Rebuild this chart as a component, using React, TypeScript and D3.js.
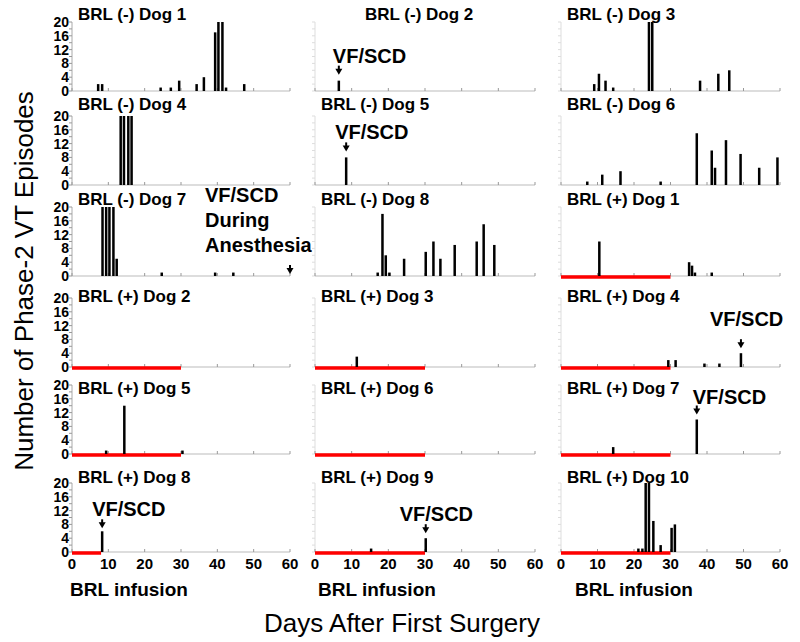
import React from "react";
import * as d3 from "d3";

// panel titles, row by row (3 per row)
const panelTitles = [
  "BRL (-) Dog 1", "BRL (-) Dog 2", "BRL (-) Dog 3",
  "BRL (-) Dog 4", "BRL (-) Dog 5", "BRL (-) Dog 6",
  "BRL (-) Dog 7", "BRL (-) Dog 8", "BRL (+) Dog 1",
  "BRL (+) Dog 2", "BRL (+) Dog 3", "BRL (+) Dog 4",
  "BRL (+) Dog 5", "BRL (+) Dog 6", "BRL (+) Dog 7",
  "BRL (+) Dog 8", "BRL (+) Dog 9", "BRL (+) Dog 10",
];

// [day, number of phase-2 VT episodes] (20 = off scale)
const negDog1 = [[7.2, 2], [8.3, 2], [24.4, 1], [27.2, 1], [29.5, 3], [34.3, 2], [36.3, 4], [39.4, 17], [40.3, 20], [41.4, 20], [42.4, 1], [47.4, 2]];
const negDog2 = [[6.5, 3]];
const negDog3 = [[9.1, 2], [10.4, 5], [12.2, 3], [14.3, 1], [24.1, 20], [25, 20], [38.1, 3], [43.1, 5], [46.1, 6]];
const negDog4 = [[13.4, 20], [14.3, 20], [15.5, 20], [16.4, 20]];
const negDog5 = [[8.5, 8]];
const negDog6 = [[7.2, 1], [11.3, 3], [16.3, 4], [27.3, 1], [37.2, 15], [41.3, 10], [42.2, 5], [45.2, 13], [49.2, 9], [54.3, 5], [59.3, 8]];
const negDog7 = [[8.4, 20], [9.4, 20], [10.3, 20], [11.4, 20], [12.3, 5], [24.7, 1], [39.4, 1], [44.4, 1]];
const negDog8 = [[17.1, 1], [18.4, 18], [19.3, 6], [20.3, 1], [24.3, 5], [30.2, 7], [32.3, 10], [34.2, 5], [38.1, 9], [44.1, 10], [46, 15], [48.9, 9]];
const posDog1 = [[10.5, 10], [35.1, 4], [35.9, 3], [36.7, 1], [41.3, 1]];
const posDog2: number[][] = [];
const posDog3 = [[11.4, 3]];
const posDog4 = [[29.4, 2], [31.4, 2], [39.3, 1], [43.4, 1], [49.3, 4]];
const posDog5 = [[9.4, 1], [14.4, 14], [30.4, 1]];
const posDog6: number[][] = [];
const posDog7 = [[14.3, 2], [37.2, 10]];
const posDog8 = [[8.3, 6]];
const posDog9 = [[15.3, 1], [30.2, 4]];
const posDog10 = [[21.2, 1], [22.3, 1], [23.2, 20], [24.1, 20], [25.3, 9], [27.3, 2], [30.3, 7], [31.2, 8]];

const panelEvents = [
  negDog1, negDog2, negDog3, negDog4, negDog5, negDog6, negDog7, negDog8, posDog1,
  posDog2, posDog3, posDog4, posDog5, posDog6, posDog7, posDog8, posDog9, posDog10,
];

// BRL infusion end day (null = no infusion)
const infusionEnd = [null, null, null, null, null, null, null, null, 30, 30, 30, 30, 30, 30, 30, 8, 30, 30];

// VF/SCD events
const vfScdPanels = [1, 4, 6, 11, 14, 15, 16];
const vfScdDays = [6.5, 8.5, 60, 49.3, 37.2, 8.3, 30.2];
const vfScdText = [["VF/SCD"], ["VF/SCD"], ["VF/SCD", "During", "Anesthesia"], ["VF/SCD"], ["VF/SCD"], ["VF/SCD"], ["VF/SCD"]];

const yTickLabels = [0, 4, 8, 12, 16, 20];
const xTickLabels = [0, 10, 20, 30, 40, 50, 60];

// layout
const W = 800;
const H = 642;
const colX = [[72, 290], [315, 535], [561, 780]];
const rowTop = [22, 116, 207, 298, 385, 483];
const titleBase = [20, 110, 205, 301.5, 394, 483];
const plotH = 69;
const annotLayout = [
  { dx: -6, dy: -3, gap: 6 },
  { dx: -11, dy: -3, gap: 6 },
  { dx: -85, dy: -13, gap: 2 },
  { dx: -31, dy: -13, gap: 5 },
  { dx: -4, dy: -2, gap: 5 },
  { dx: -10, dy: -3, gap: 3 },
  { dx: -26, dy: -3, gap: 5 },
];
const font = "Arial, 'Liberation Sans', sans-serif";

const Panel = ({ i }: { i: number }) => {
  const row = Math.floor(i / 3);
  const col = i % 3;
  const x = d3.scaleLinear().domain([0, 60]).range(colX[col]);
  const y = d3.scaleLinear().domain([0, 20]).range([rowTop[row] + plotH, rowTop[row]]);
  const base = y(0);
  const titleX = i === 1 ? colX[col][0] + 50 : colX[col][0] + 6;
  const end = infusionEnd[i];
  return (
    <g>
      {/* y axis */}
      <line x1={x(0)} x2={x(0)} y1={y(0)} y2={y(20)} stroke={col === 0 ? "#aaa" : "#ddd"} strokeWidth={1} />
      {d3.range(0, 21, 2).map((v) => (
        <line key={v} x1={x(0) - 3} x2={x(0)} y1={y(v)} y2={y(v)} stroke={col === 0 ? "#999" : "#ddd"} strokeWidth={1} />
      ))}
      {col === 0 &&
        yTickLabels.map((v) => (
          <text key={v} x={x(0) - 3} y={y(v) + 5} textAnchor="end" fontSize={14} fontWeight="bold" fontFamily={font}>
            {v}
          </text>
        ))}
      {/* x axis */}
      <line x1={x(0)} x2={x(60)} y1={base} y2={base} stroke="#bbb" strokeWidth={1} />
      {xTickLabels.map((t) => (
        <line key={t} x1={x(t)} x2={x(t)} y1={base} y2={base - 3} stroke="#999" strokeWidth={1} />
      ))}
      {row === 5 &&
        xTickLabels.map((t) => (
          <text key={t} x={x(t)} y={569} textAnchor="middle" fontSize={15} fontWeight="bold" fontFamily={font}>
            {t}
          </text>
        ))}
      {end !== null && (
        <line x1={x(0)} x2={x(end)} y1={base + 1} y2={base + 1} stroke="#f00" strokeWidth={3.5} />
      )}
      {panelEvents[i].map((d, k) => (
        <rect key={k} x={x(d[0]) - 1.25} width={2.5} y={y(d[1])} height={base - y(d[1])} fill="#000" />
      ))}
      <text x={titleX} y={titleBase[row]} fontSize={17} fontWeight="bold" fontFamily={font}>
        {panelTitles[i]}
      </text>
    </g>
  );
};

const Annotation = ({ k }: { k: number }) => {
  const i = vfScdPanels[k];
  const row = Math.floor(i / 3);
  const col = i % 3;
  const x = d3.scaleLinear().domain([0, 60]).range(colX[col]);
  const y = d3.scaleLinear().domain([0, 20]).range([rowTop[row] + plotH, rowTop[row]]);
  const day = vfScdDays[k];
  const ev = panelEvents[i].find((d) => Math.abs(d[0] - day) < 0.5);
  const top = y(ev ? ev[1] : 0);
  const lay = annotLayout[k];
  const ax = x(day);
  const aEnd = top - lay.gap;
  const aStart = aEnd - 9;
  const lines = vfScdText[k];
  return (
    <g>
      <line x1={ax} x2={ax} y1={aStart} y2={aEnd - 4} stroke="#000" strokeWidth={2} />
      <path d={`M${ax - 3.5},${aEnd - 6}L${ax + 3.5},${aEnd - 6}L${ax},${aEnd}Z`} fill="#000" />
      {lines.map((s, j) => (
        <text
          key={j}
          x={ax + lay.dx}
          y={aStart + lay.dy - (lines.length - 1 - j) * 25}
          fontSize={20}
          fontWeight="bold"
          fontFamily={font}
        >
          {s}
        </text>
      ))}
    </g>
  );
};

export default function App() {
  return (
    <svg width={W} height={H} style={{ position: "absolute", left: 0, top: 0, background: "#fff" }}>
      <rect width={W} height={H} fill="#fff" />
      {panelTitles.map((_, i) => (
        <Panel key={i} i={i} />
      ))}
      {vfScdPanels.map((_, k) => (
        <Annotation key={k} k={k} />
      ))}
      {colX.map((c, j) => (
        <text key={j} x={[70, 318, 575][j]} y={596} fontSize={19} fontWeight="bold" fontFamily={font}>
          BRL infusion
        </text>
      ))}
      <text x={402} y={632} textAnchor="middle" fontSize={26} fontFamily={font}>
        Days After First Surgery
      </text>
      <text transform="translate(33,281) rotate(-90)" textAnchor="middle" fontSize={26} fontFamily={font}>
        Number of Phase-2 VT Episodes
      </text>
    </svg>
  );
}
